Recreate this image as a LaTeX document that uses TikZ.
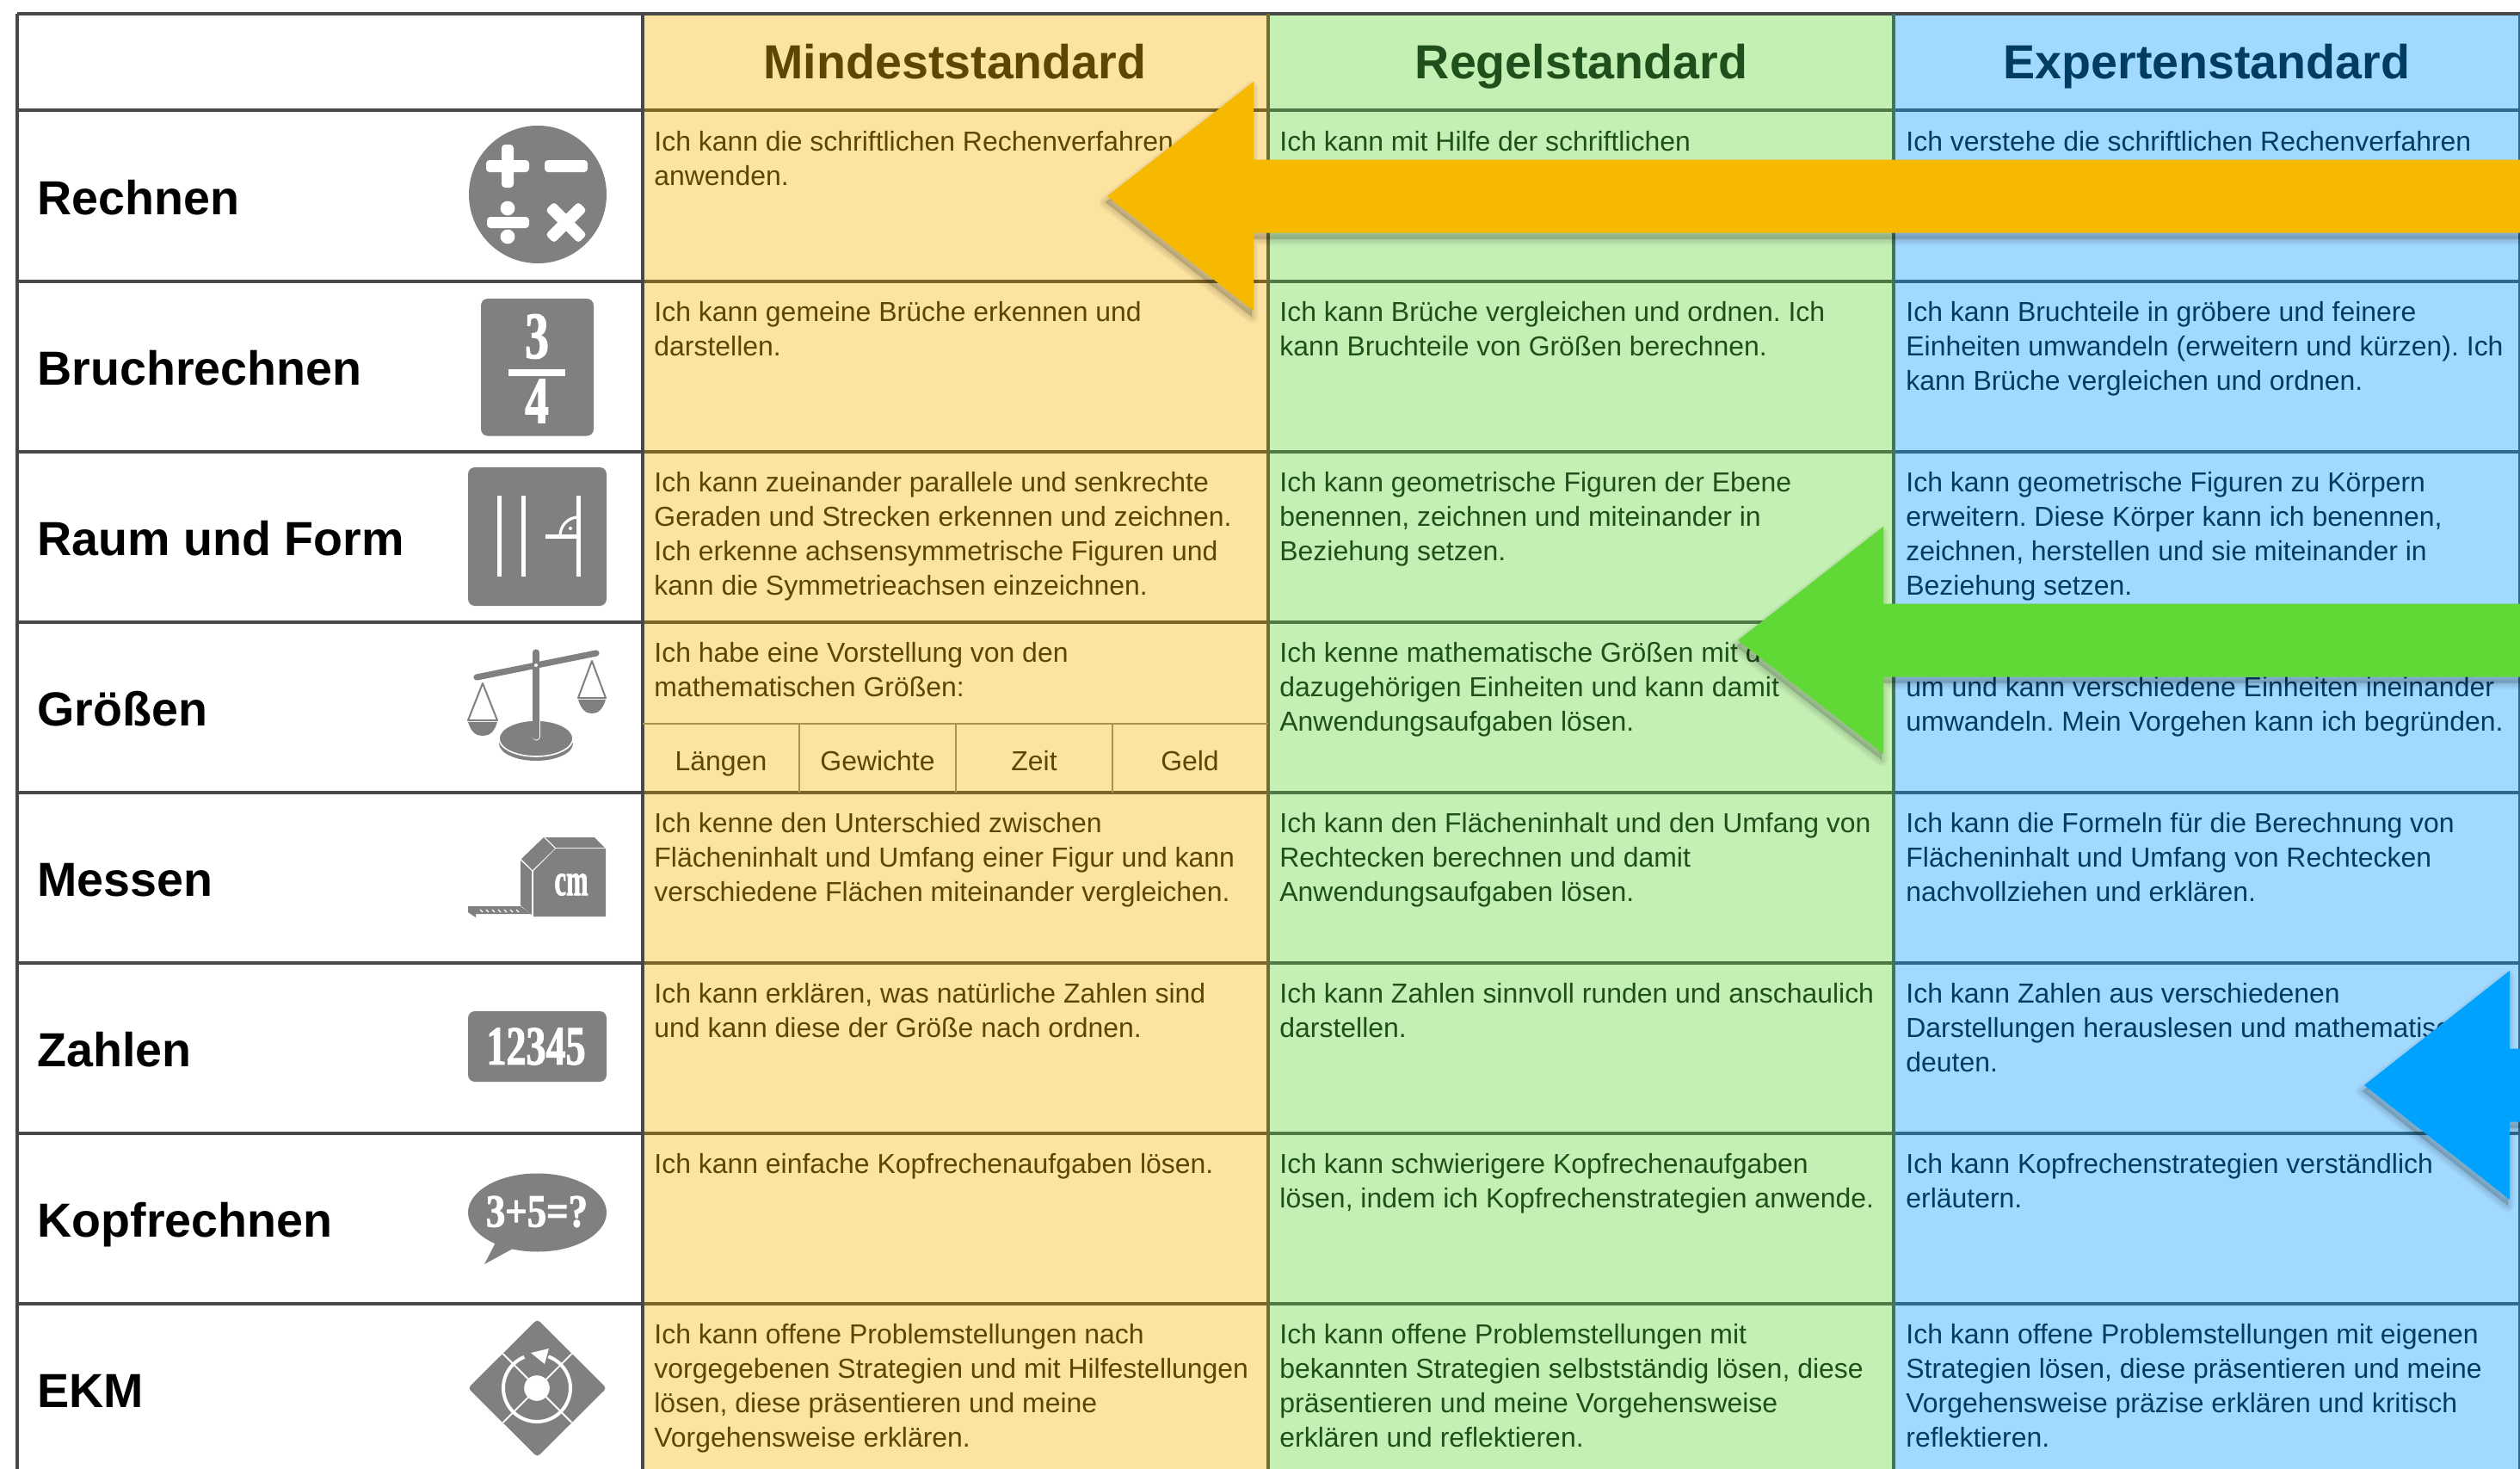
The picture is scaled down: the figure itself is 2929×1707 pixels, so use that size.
\documentclass[tikz,border=0pt]{standalone}
\usepackage{fontspec}
\usepackage{graphicx}
\newfontfamily\arial{Liberation Sans}
\newfontfamily\fatface[BoldFeatures={FakeBold=1.6,FakeStretch=.72}]{Liberation Serif}
\definecolor{ybg}{HTML}{FCE3A0}
\definecolor{gbg}{HTML}{C4F0B4}
\definecolor{bbg}{HTML}{A2D9FF}
\definecolor{ytx}{HTML}{5E4500}
\definecolor{gtx}{HTML}{1F4F1A}
\definecolor{btx}{HTML}{003D63}
\definecolor{yln}{HTML}{7D6528}
\definecolor{gln}{HTML}{4F7A46}
\definecolor{bln}{HTML}{2F6A8C}
\definecolor{dln}{HTML}{484848}
\definecolor{sub}{HTML}{A8924F}
\definecolor{icon}{HTML}{808080}
\definecolor{arry}{HTML}{F6B900}
\definecolor{arrg}{HTML}{60D936}
\definecolor{arrb}{HTML}{00A2FF}
\newcommand{\cs}{\strut}
\tikzset{
  cell/.style={anchor=north west,inner sep=0pt,align=left,
    font=\arial\frenchspacing\fontsize{15.97}{20}\selectfont},
  ycell/.style={cell,text=ytx},
  gcell/.style={cell,text=gtx},
  bcell/.style={cell,text=btx},
  rowlabel/.style={anchor=base west,inner sep=0pt,font=\arial\bfseries\fontsize{27.8}{30}\selectfont,text=black},
  headlabel/.style={anchor=base,inner sep=0pt,font=\arial\bfseries\fontsize{27.8}{32}\selectfont},
  sublabel/.style={anchor=base,inner sep=0pt,font=\arial\fontsize{15.97}{20}\selectfont,text=ytx},
  icontext/.style={inner sep=0pt,text=white,font=\fatface\bfseries\fontsize{#1}{#1}\selectfont},
  grid/.style={line width=2pt},
  whiteline/.style={draw=white,line width=#1},
}
\newcommand{\bigarrow}[6]{%
  % tip x, tip y, base x, head half, shaft half, colour
  \foreach \wd in {15,11,7,3}{
    \draw[black,opacity=.035,line width=\wd*0.5pt,line join=round,shift={(-2,7)}]
      (2960,{#2-#5}) -- (#3,{#2-#5}) -- (#3,{#2-#4}) -- (#1,#2) -- (#3,{#2+#4}) -- (#3,{#2+#5}) -- (2960,{#2+#5}) -- cycle;
  }
  \fill[black,opacity=.16,shift={(-2,7)}]
    (2960,{#2-#5}) -- (#3,{#2-#5}) -- (#3,{#2-#4}) -- (#1,#2) -- (#3,{#2+#4}) -- (#3,{#2+#5}) -- (2960,{#2+#5}) -- cycle;
  \fill[#6]
    (2960,{#2-#5}) -- (#3,{#2-#5}) -- (#3,{#2-#4}) -- (#1,#2) -- (#3,{#2+#4}) -- (#3,{#2+#5}) -- (2960,{#2+#5}) -- cycle;
}
\begin{document}
\begin{tikzpicture}[x=0.5pt,y=-0.5pt]
\useasboundingbox (0,0) rectangle (2929,1707);
\clip (0,0) rectangle (2929,1707);
\fill[white] (0,0) rectangle (2929,1707);
% column backgrounds
\fill[ybg] (747,16) rectangle (1474,1707);
\fill[gbg] (1474,16) rectangle (2201,1707);
\fill[bbg] (2201,16) rectangle (2929,1707);
% row lines
\foreach \yy in {128.5,326.5,524.5,722.5,920.5,1118.5,1316.5,1514.5}{
  \draw[grid,dln] (20,\yy) -- (747,\yy);
  \draw[grid,yln] (747,\yy) -- (1474,\yy);
  \draw[grid,gln] (1474,\yy) -- (2201,\yy);
  \draw[grid,bln] (2201,\yy) -- (2929,\yy);
}
\draw[grid,dln] (20,16) -- (2929,16);
\draw[grid,dln] (20,16) -- (20,1707);
\draw[grid,dln] (747,16) -- (747,1707);
\draw[grid,yln!70!gln] (1474,16) -- (1474,1707);
\draw[grid,gln!50!bln] (2201,16) -- (2201,1707);
\draw[grid,bln] (2929,16) -- (2929,1707);
% sub-table
\draw[line width=1.2pt,sub] (747,841) -- (1474,841);
\draw[line width=1pt,sub] (929,841) -- (929,921);
\draw[line width=1pt,sub] (1111,841) -- (1111,921);
\draw[line width=1pt,sub] (1293,841) -- (1293,921);
% headers
\node[headlabel,text=ytx] (h1) at (1110,92) {Mindeststandard};
\node[headlabel,text=gtx] (h2) at (1838,92) {Regelstandard};
\node[headlabel,text=btx] (h3) at (2565,92) {Expertenstandard};
% row labels
\node[rowlabel] (r1) at (43,249) {Rechnen};
\node[rowlabel] (r2) at (43,447) {Bruchrechnen};
\node[rowlabel] (r3) at (43,645) {Raum und Form};
\node[rowlabel] (r4) at (43,843) {Größen};
\node[rowlabel] (r5) at (43,1041) {Messen};
\node[rowlabel] (r6) at (43,1239) {Zahlen};
\node[rowlabel] (r7) at (43,1437) {Kopfrechnen};
\node[rowlabel] (r8) at (43,1635) {EKM};
% cells yellow
\node[ycell] (y1) at (760,147) {\cs Ich kann die schriftlichen Rechenverfahren\\anwenden.};
\node[ycell] (y2) at (760,345) {\cs Ich kann gemeine Brüche erkennen und\\darstellen.};
\node[ycell] (y3) at (760,543) {\cs Ich kann zueinander parallele und senkrechte\\Geraden und Strecken erkennen und zeichnen.\\Ich erkenne achsensymmetrische Figuren und\\kann die Symmetrieachsen einzeichnen.};
\node[ycell] (y4) at (760,741) {\cs Ich habe eine Vorstellung von den\\mathematischen Größen:};
\node[sublabel] (s1) at (838,895) {Längen};
\node[sublabel] (s2) at (1020,895) {Gewichte};
\node[sublabel] (s3) at (1202,895) {Zeit};
\node[sublabel] (s4) at (1383,895) {Geld};
\node[ycell] (y5) at (760,939) {\cs Ich kenne den Unterschied zwischen\\Flächeninhalt und Umfang einer Figur und kann\\verschiedene Flächen miteinander vergleichen.};
\node[ycell] (y6) at (760,1137) {\cs Ich kann erklären, was natürliche Zahlen sind\\und kann diese der Größe nach ordnen.};
\node[ycell] (y7) at (760,1335) {\cs Ich kann einfache Kopfrechenaufgaben lösen.};
\node[ycell] (y8) at (760,1533) {\cs Ich kann offene Problemstellungen nach\\vorgegebenen Strategien und mit Hilfestellungen\\lösen, diese präsentieren und meine\\Vorgehensweise erklären.};
% cells green
\node[gcell] (g1) at (1487,147) {\cs Ich kann mit Hilfe der schriftlichen};
\node[gcell] (g2) at (1487,345) {\cs Ich kann Brüche vergleichen und ordnen. Ich\\kann Bruchteile von Größen berechnen.};
\node[gcell] (g3) at (1487,543) {\cs Ich kann geometrische Figuren der Ebene\\benennen, zeichnen und miteinander in\\Beziehung setzen.};
\node[gcell] (g4) at (1487,741) {\cs Ich kenne mathematische Größen mit den\\dazugehörigen Einheiten und kann damit\\Anwendungsaufgaben lösen.};
\node[gcell] (g5) at (1487,939) {\cs Ich kann den Flächeninhalt und den Umfang von\\Rechtecken berechnen und damit\\Anwendungsaufgaben lösen.};
\node[gcell] (g6) at (1487,1137) {\cs Ich kann Zahlen sinnvoll runden und anschaulich\\darstellen.};
\node[gcell] (g7) at (1487,1335) {\cs Ich kann schwierigere Kopfrechenaufgaben\\lösen, indem ich Kopfrechenstrategien anwende.};
\node[gcell] (g8) at (1487,1533) {\cs Ich kann offene Problemstellungen mit\\bekannten Strategien selbstständig lösen, diese\\präsentieren und meine Vorgehensweise\\erklären und reflektieren.};
% cells blue
\node[bcell] (b1) at (2215,147) {\cs Ich verstehe die schriftlichen Rechenverfahren};
\node[bcell] (b2) at (2215,345) {\cs Ich kann Bruchteile in gröbere und feinere\\Einheiten umwandeln (erweitern und kürzen). Ich\\kann Brüche vergleichen und ordnen.};
\node[bcell] (b3) at (2215,543) {\cs Ich kann geometrische Figuren zu Körpern\\erweitern. Diese Körper kann ich benennen,\\zeichnen, herstellen und sie miteinander in\\Beziehung setzen.};
\node[bcell] (b4) at (2215,741) {\cs\\um und kann verschiedene Einheiten ineinander\\umwandeln. Mein Vorgehen kann ich begründen.};
\node[bcell] (b5) at (2215,939) {\cs Ich kann die Formeln für die Berechnung von\\Flächeninhalt und Umfang von Rechtecken\\nachvollziehen und erklären.};
\node[bcell] (b6) at (2215,1137) {\cs Ich kann Zahlen aus verschiedenen\\Darstellungen herauslesen und mathematisch\\deuten.};
\node[bcell] (b7) at (2215,1335) {\cs Ich kann Kopfrechenstrategien verständlich\\erläutern.};
\node[bcell] (b8) at (2215,1533) {\cs Ich kann offene Problemstellungen mit eigenen\\Strategien lösen, diese präsentieren und meine\\Vorgehensweise präzise erklären und kritisch\\reflektieren.};
% icon: Rechnen
\fill[icon] (625,226) circle[radius=40pt];
\fill[white,rounded corners=2pt] (565,186) rectangle (615,200);
\fill[white,rounded corners=2pt] (583,168) rectangle (597,218);
\fill[white,rounded corners=2pt] (633,186) rectangle (683,200);
\fill[white,rounded corners=2pt] (566,252) rectangle (615,265);
\fill[white] (590,242) circle[radius=4.2pt];
\fill[white] (590,275) circle[radius=4.2pt];
\begin{scope}[rotate around={45:(658,258.5)}]
\fill[white,rounded corners=2pt] (631,251.5) rectangle (685,265.5);
\fill[white,rounded corners=2pt] (651,231.5) rectangle (665,285.5);
\end{scope}
% icon: Bruch
\fill[icon,rounded corners=4pt] (559,347) rectangle (690,506.5);
\node[icontext=38.5] (i3) at (624,391) {3};
\fill[white] (591,429) rectangle (657,437);
\node[icontext=38.5] (i4) at (624,466) {4};
% icon: Raum
\fill[icon,rounded corners=4pt] (544,543) rectangle (705,704);
\draw[whiteline=2.5pt] (580,576) -- (580,670);
\draw[whiteline=2.5pt] (608,576) -- (608,670);
\draw[whiteline=2.5pt] (672,576) -- (672,670);
\draw[whiteline=2.5pt] (634,623) -- (672,623);
\draw[whiteline=1.6pt] plot[domain=0:90,samples=20] ({672-21*cos(\x)},{623-22*sin(\x)});
\fill[white] (663,614) circle[radius=1pt];
% icon: Waage
\fill[icon] (623,864) ellipse[x radius=21.5pt,y radius=10pt];
\draw[white,line width=.8pt,fill=icon] (623,858) ellipse[x radius=21.5pt,y radius=10.5pt];
\draw[white,line width=4.5pt,line cap=round] (623,758) -- (623,856);
\draw[icon,line width=3.6pt,line cap=round] (623,758) -- (623,856);
\draw[icon,line width=3.6pt,line cap=round] (554,787) -- (693,759);
\fill[white] (623,773) circle[radius=1pt];
\draw[icon,line width=1pt,line join=round] (561,794) -- (544,837) -- (578,837) -- cycle;
\fill[icon] (544,839) .. controls (548,852) and (554,855) .. (561,855) .. controls (568,855) and (574,852) .. (578,839) -- cycle;
\draw[icon,line width=1pt,line join=round] (688,768) -- (672,811) -- (704,811) -- cycle;
\fill[icon] (672,813) .. controls (676,826) and (682,829) .. (688,829) .. controls (694,829) and (700,826) .. (704,813) -- cycle;
% icon: Massband
\fill[icon] (634,973) -- (691,973) -- (703,985) -- (646,985) -- cycle;
\fill[icon] (632,973) -- (645,986) -- (619,1011) -- (606,998) -- cycle;
\fill[icon] (605,1000) -- (618,1012) -- (618,1063) -- (605,1052) -- cycle;
\fill[icon] (620,1012) -- (646,986) -- (704,986) -- (704,1065) -- (620,1065) -- cycle;
\node[icontext=26.5] (icm) at (664,1028) {\scalebox{.8}[1]{cm}};
\fill[icon] (544,1053) -- (605,1053) -- (617,1062) -- (553,1062) -- (553,1066) -- (544,1060) -- cycle;
\foreach \tx in {558,565,572,579,586,593,600}{
  \draw[white,line width=.6pt] (\tx,1057) -- (\tx+3,1060);
}
% icon: Zahlen
\fill[icon,rounded corners=4pt] (544,1175) rectangle (705,1257);
\node[icontext=32] (i12345) at (623,1216) {12345};
% icon: Kopfrechnen
\fill[icon] (624.5,1409) ellipse[x radius=40.25pt,y radius=22.75pt];
\fill[icon] (577,1442) -- (563,1469) -- (596,1451) -- cycle;
\node[icontext=27] (ikopf) at (624,1408) {\scalebox{1.15}[1]{3+5=?}};
% icon: EKM
\fill[icon,rounded corners=2pt] (544,1613) -- (624.5,1533) -- (705,1613) -- (624.5,1693) -- cycle;
\draw[whiteline=.9pt] (584.5,1573) -- (664.5,1653);
\draw[whiteline=.9pt] (664.5,1573) -- (584.5,1653);
\draw[whiteline=2pt,line cap=butt] plot[domain=70:-248,samples=80] ({624+39*cos(\x)},{1613-39*sin(\x)});
\fill[white] (624,1613) circle[radius=7.4pt];
\fill[white] (617,1572) -- (638,1567) -- (633,1585) -- cycle;
% arrows
\bigarrow{1287}{228}{1457}{133}{42.5}{arry}
\bigarrow{2020}{744}{2189}{132}{42.5}{arrg}
\bigarrow{2748}{1261}{2917}{133}{42.5}{arrb}
\end{tikzpicture}
\end{document}
